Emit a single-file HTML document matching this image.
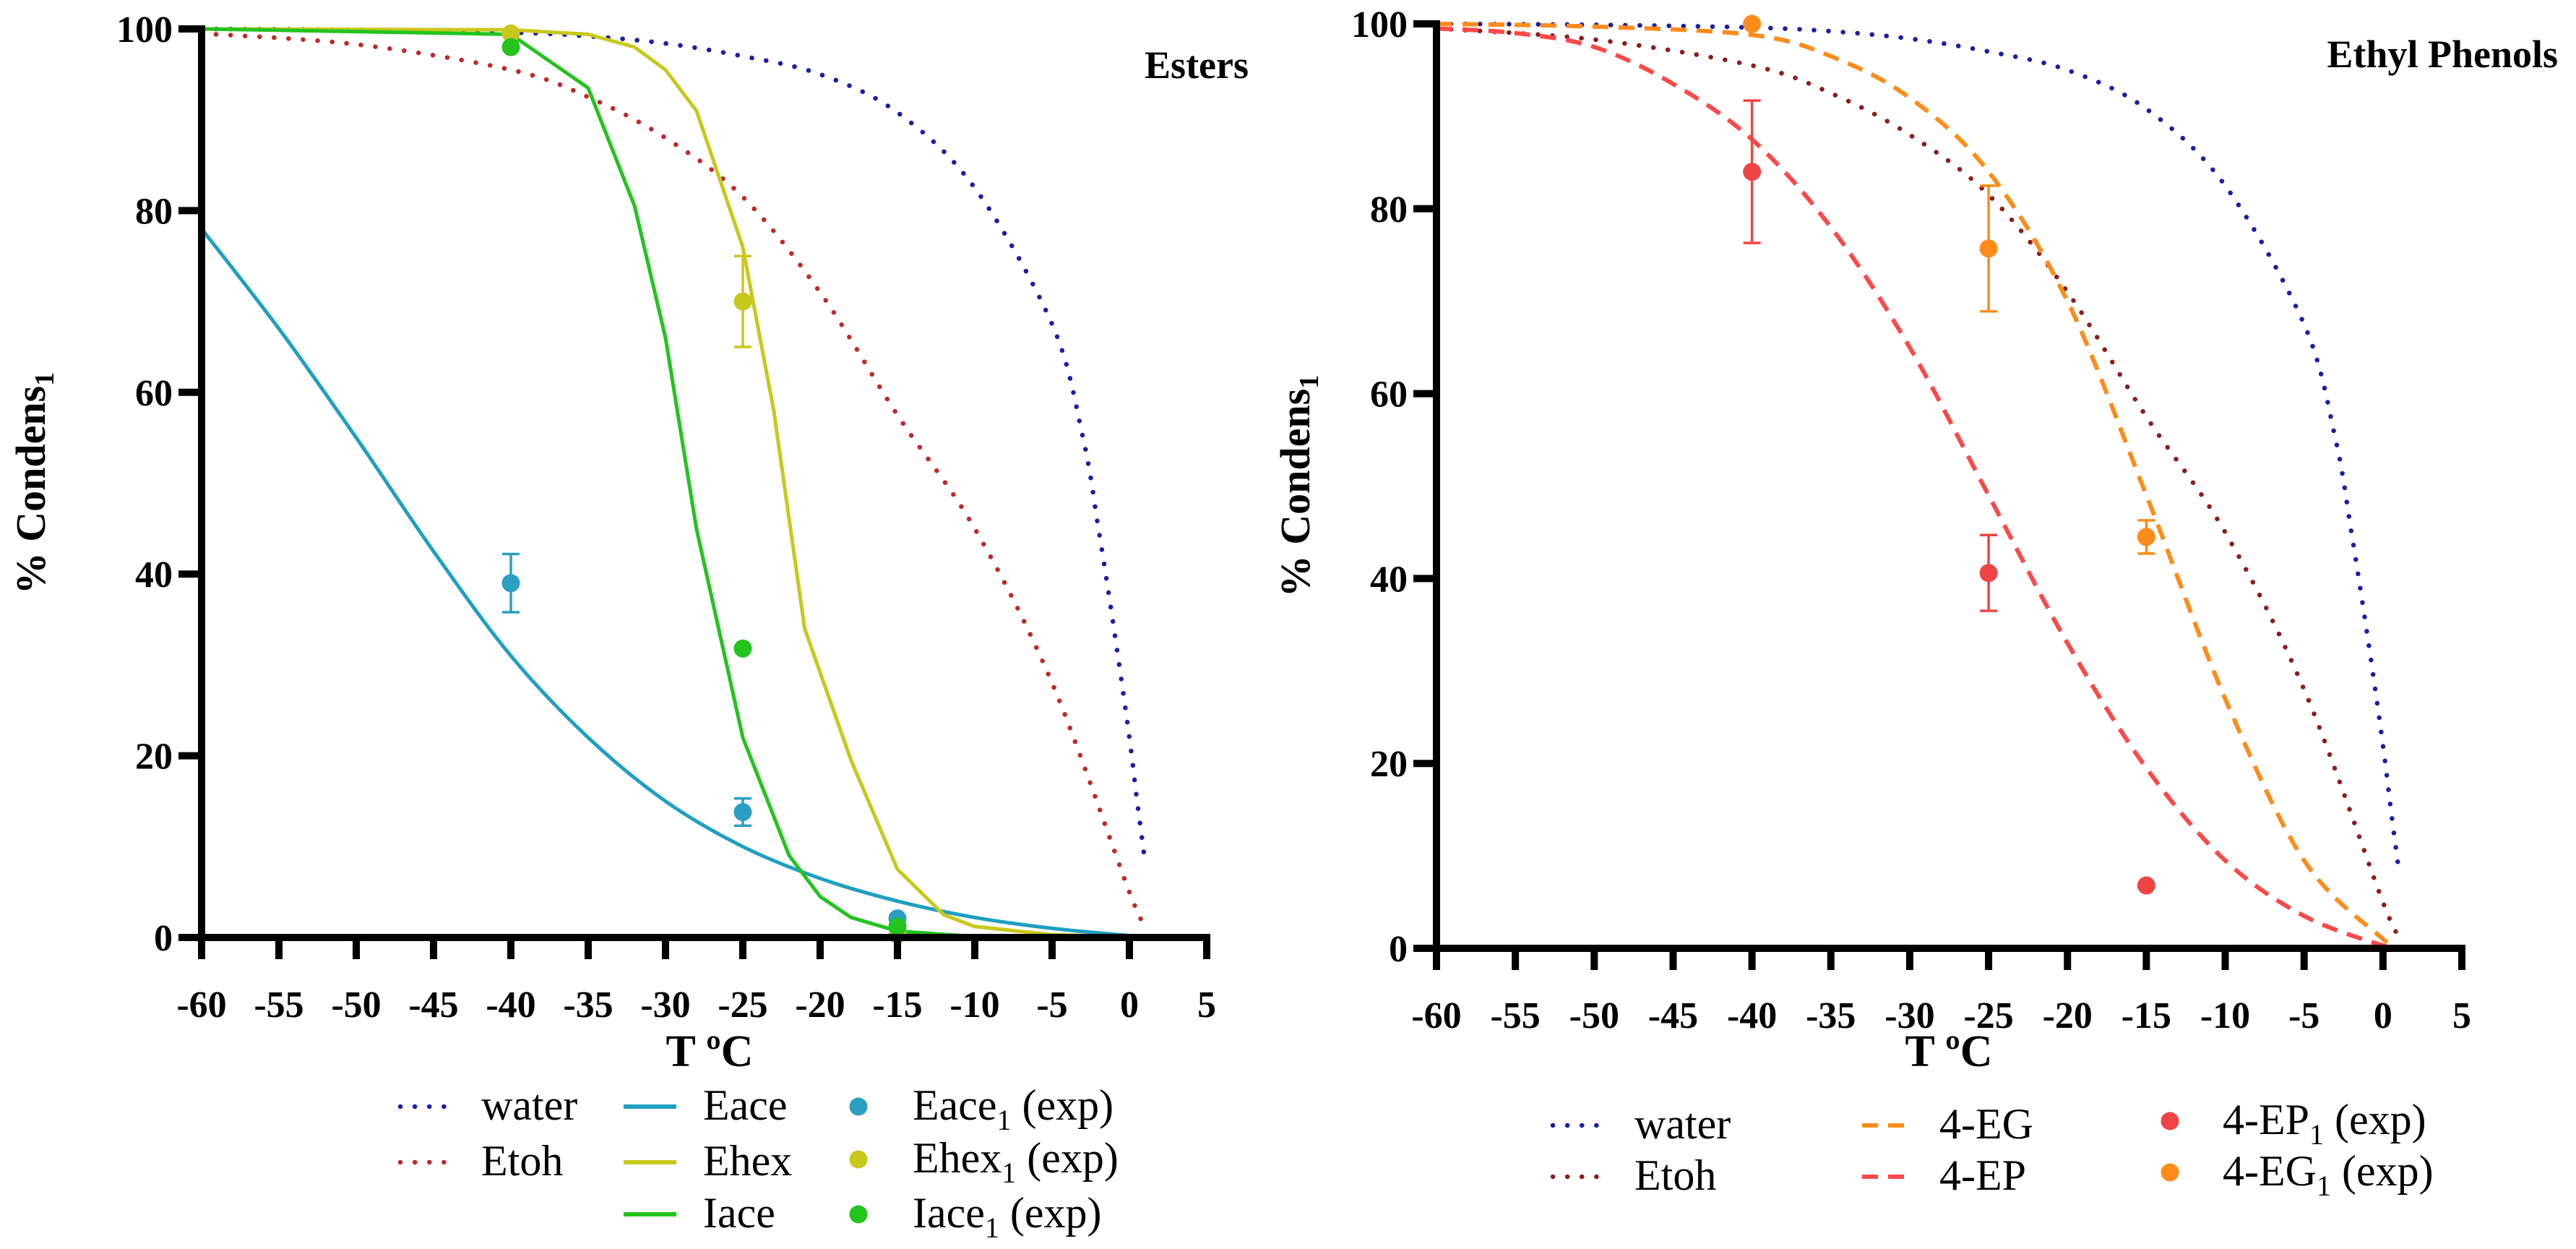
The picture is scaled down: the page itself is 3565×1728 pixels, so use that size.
<!DOCTYPE html>
<html><head><meta charset="utf-8"><style>
html,body{margin:0;padding:0;background:#fff;}
svg{display:block;}
svg text{font-family:"Liberation Serif","DejaVu Serif",serif;}
</style></head><body>
<svg id="svg" width="3565" height="1728" viewBox="0 0 3565 1728" xmlns="http://www.w3.org/2000/svg" font-family="Liberation Serif, DejaVu Serif, serif"></svg>
<script>
// shared tick labels
const xTicks = [-60,-55,-50,-45,-40,-35,-30,-25,-20,-15,-10,-5,0,5];
const yTicks = [0,20,40,60,80,100];
// reference curves
const waterT = [-60,-50,-40,-35,-30,-25,-20,-15,-10,-5,-3,-2,-1,0,0.5,1];
const waterV = [100,99.9,99.6,99.2,98.4,97,95,90.8,82.5,67.5,55,45,34,22,15,8.5];
const etohT = [-60,-50,-40,-35,-30,-25,-20,-15,-10,-5,0,1];
const etohV = [99.5,98.3,95.5,92.5,88,81.5,71,57.5,45,28,5,1.5];
// Esters model curves
const eaceT = [-60,-55,-50,-45,-40,-35,-30,-25,-20,-15,-10,-5,0,1];
const eaceV = [78,67,55,42.5,31,22,15,10,6.5,4,2.2,1,0.2,0];
const ehexT = [-60,-40,-35,-32,-30,-28,-25,-23,-21,-18,-15,-12,-10,-5,0,1];
const ehexV = [100,99.9,99.4,98,95.5,91,76,58,34,19.5,7.5,2.5,1.2,0.3,0.1,0];
const iaceT = [-60,-40,-35,-32,-30,-28,-25,-22,-20,-18,-15,-10,0,1];
const iaceV = [100,99.4,93.5,80.5,66,45,22,9,4.5,2.2,0.7,0.1,0,0];
// Esters experimental points
const expT = [-40,-25,-15];
const eaceExp = [39,13.8,2.1];
const eaceErr = [3.2,1.5,0];
const ehexExp = [99.5,70,0.3];
const ehexErr = [0,5,0];
const iaceExp = [98,31.8,1.2];
const iaceErr = [0,0,0];
// Ethyl phenols model curves
const egT = [-60,-50,-40,-35,-30,-25,-20,-15,-10,-5,0,1];
const egV = [100,99.7,98.8,96.5,92,84,70,49,27,9.5,1,0];
const epT = [-60,-55,-50,-45,-40,-35,-30,-25,-20,-15,-10,-5,0,1];
const epV = [99.5,99,97.5,93.5,87.5,78,65,49,33,19.5,9.5,3.5,0.3,0];
// Ethyl phenols experimental points
const epExp = [84,40.6,6.8];
const epErr = [7.7,4.1,0];
const egExp = [100,75.7,44.5];
const egErr = [0,6.8,1.8];

const NS="http://www.w3.org/2000/svg";
const svg=document.getElementById('svg');
const FONT='Liberation Serif, DejaVu Serif, serif';
function mk(tag,attrs,parent){const e=document.createElementNS(NS,tag);for(const k in attrs)e.setAttribute(k,attrs[k]);if(tag==='text')e.setAttribute('font-family',FONT);(parent||svg).appendChild(e);return e;}

function smoothPath(pts){
  let d='M'+pts[0][0].toFixed(1)+','+pts[0][1].toFixed(1);
  for(let i=0;i<pts.length-1;i++){
    const p0=pts[Math.max(0,i-1)],p1=pts[i],p2=pts[i+1],p3=pts[Math.min(pts.length-1,i+2)];
    const c1=[p1[0]+(p2[0]-p0[0])/6,p1[1]+(p2[1]-p0[1])/6];
    const c2=[p2[0]-(p3[0]-p1[0])/6,p2[1]-(p3[1]-p1[1])/6];
    d+='C'+c1[0].toFixed(1)+','+c1[1].toFixed(1)+' '+c2[0].toFixed(1)+','+c2[1].toFixed(1)+' '+p2[0].toFixed(1)+','+p2[1].toFixed(1);
  }
  return d;
}

function chart(c){
  const g=mk('g',{});
  
  
  const X=t=>c.x0+(t+60)*(c.x1-c.x0)/65;
  const Y=v=>c.y0-v*(c.y0-c.y100)/100;
  c.series.forEach(s=>{
    const pts=s.t.map((t,i)=>[X(t),Y(s.v[i])]);
    const p=mk('path',{d:s.smooth?smoothPath(pts):'M'+pts.map(p=>p[0].toFixed(1)+','+p[1].toFixed(1)).join('L'),fill:'none',stroke:s.color,'stroke-width':s.w||6,'stroke-dasharray':s.dash||'none','stroke-linecap':s.cap||'butt','stroke-linejoin':'round'},g);
    
    
  });
  c.points.forEach(s=>{
    s.v.forEach((v,i)=>{
      const x=X(expT[i]),y=Y(v);
      if(s.err[i]>0){
        const e=mk('path',{d:`M${x},${Y(v+s.err[i])}V${Y(v-s.err[i])}M${x-12},${Y(v+s.err[i])}h24M${x-12},${Y(v-s.err[i])}h24`,stroke:s.color,'stroke-width':3.5,fill:'none'},g);
        
        
      }
      const m=mk('circle',{cx:x,cy:y,r:12.5,fill:s.color},g);
      
      
    });
  });
  const ax=mk('path',{d:`M${c.x0},${c.y100-5}V${c.y0}H${c.x1+5}`,stroke:'#000','stroke-width':10,fill:'none'},g);
  
  
  xTicks.forEach(t=>{
    const x=X(t);
    const tk=mk('line',{x1:x,x2:x,y1:c.y0,y2:c.y0+30,stroke:'#000','stroke-width':10},g);
    
    
    const tx=mk('text',{x:x,y:c.y0+110,'text-anchor':'middle','font-size':52,'font-weight':'bold'},g);
    tx.textContent=t;
    
    
  });
  yTicks.forEach(v=>{
    const y=Y(v);
    const tk=mk('line',{x1:c.x0-32,x2:c.x0,y1:y,y2:y,stroke:'#000','stroke-width':10},g);
    
    
    const tx=mk('text',{x:c.x0-40,y:y+18,'text-anchor':'end','font-size':52,'font-weight':'bold'},g);
    tx.textContent=v;
    
    
  });
  const xl=mk('text',{x:c.xl,y:1475,'text-anchor':'middle','font-size':62,'font-weight':'bold'},g);
  xl.textContent='T ºC';
  
  
  const yl=mk('text',{transform:`translate(${c.ylx},${(c.y0+c.y100)/2}) rotate(-90)`,'text-anchor':'middle','font-size':58,'font-weight':'bold'},g);
  yl.innerHTML='% Condens<tspan dy="12" font-size="38">1</tspan>';
  
  
  const tt=mk('text',{x:c.titleX,y:c.titleY,'text-anchor':'end','font-size':54,'font-weight':'bold'},g);
  tt.textContent=c.title;
  
  
  c.legend.forEach(l=>{
    const lg=mk('g',{},g);
    
    
    if(l.marker){mk('circle',{cx:l.x+10,cy:l.y,r:12.5,fill:l.color},lg);}
    else mk('line',{x1:l.x,x2:l.x+l.len,y1:l.y,y2:l.y,stroke:l.color,'stroke-width':l.w||6,'stroke-dasharray':l.dash||'none','stroke-linecap':l.cap||'butt'},lg);
    const t=mk('text',{x:l.tx,y:l.y+18,'font-size':60},lg);
    t.innerHTML=l.label;
  });
}

const DOT='0.1 20';
const sub=(a,b)=>a+'<tspan dy="14" font-size="40">1</tspan><tspan dy="-14"> '+b+'</tspan>';

chart({name:'esters-chart',x0:279,x1:1670,y0:1297,y100:40,xl:982,ylx:62,title:'Esters',titleX:1728,titleY:108,
  series:[
    {id:'water',t:waterT,v:waterV,color:'#1c1ca8',dash:DOT,cap:'round',w:6.5,smooth:true},
    {id:'etoh',t:etohT,v:etohV,color:'#c0282a',dash:DOT,cap:'round',w:6.5,smooth:true},
    {id:'eace',t:eaceT,v:eaceV,color:'#1f9fc2',w:5,smooth:true},
    {id:'ehex',t:ehexT,v:ehexV,color:'#c8c81c',w:5},
    {id:'iace',t:iaceT,v:iaceV,color:'#22c41e',w:5}
  ],
  points:[
    {id:'eace-exp',v:eaceExp,err:eaceErr,color:'#2a9fc2'},
    {id:'ehex-exp',v:ehexExp,err:ehexErr,color:'#c8c81c'},
    {id:'iace-exp',v:iaceExp,err:iaceErr,color:'#22c41e'}
  ],
  legend:[
    {x:554,y:1531,len:66,color:'#1c1ca8',dash:DOT,cap:'round',w:6.5,tx:666,label:'water'},
    {x:554,y:1608,len:66,color:'#c0282a',dash:DOT,cap:'round',w:6.5,tx:666,label:'Etoh'},
    {x:863,y:1531,len:73,color:'#1f9fc2',tx:973,label:'Eace'},
    {x:863,y:1608,len:73,color:'#c8c81c',tx:973,label:'Ehex'},
    {x:863,y:1680,len:73,color:'#22c41e',tx:973,label:'Iace'},
    {x:1178,y:1531,marker:true,color:'#2a9fc2',tx:1263,label:sub('Eace','(exp)')},
    {x:1178,y:1604,marker:true,color:'#c8c81c',tx:1263,label:sub('Ehex','(exp)')},
    {x:1178,y:1680,marker:true,color:'#22c41e',tx:1263,label:sub('Iace','(exp)')}
  ]});

chart({name:'ethyl-phenols-chart',x0:1988,x1:3407,y0:1312,y100:33,xl:2697,ylx:1812,title:'Ethyl Phenols',titleX:3540,titleY:93,
  series:[
    {id:'water',t:waterT,v:waterV,color:'#1c1ca8',dash:DOT,cap:'round',w:6.5,smooth:true},
    {id:'etoh',t:etohT,v:etohV,color:'#8e1c1c',dash:DOT,cap:'round',w:6.5,smooth:true},
    {id:'4-eg',t:egT,v:egV,color:'#ff8c1a',dash:'22 14',w:6,smooth:true},
    {id:'4-ep',t:epT,v:epV,color:'#ff4848',dash:'22 14',w:6,smooth:true}
  ],
  points:[
    {id:'4-ep-exp',v:epExp,err:epErr,color:'#f04444'},
    {id:'4-eg-exp',v:egExp,err:egErr,color:'#ff8c1a'}
  ],
  legend:[
    {x:2149,y:1557,len:62,color:'#1c1ca8',dash:DOT,cap:'round',w:6.5,tx:2262,label:'water'},
    {x:2149,y:1628,len:62,color:'#8e1c1c',dash:DOT,cap:'round',w:6.5,tx:2262,label:'Etoh'},
    {x:2577,y:1557,len:70,color:'#ff8c1a',dash:'22 14',tx:2684,label:'4-EG'},
    {x:2577,y:1628,len:70,color:'#ff4848',dash:'22 14',tx:2684,label:'4-EP'},
    {x:2993,y:1551,marker:true,color:'#f04444',tx:3076,label:sub('4-EP','(exp)')},
    {x:2993,y:1622,marker:true,color:'#ff8c1a',tx:3076,label:sub('4-EG','(exp)')}
  ]});
</script>
</body></html>
